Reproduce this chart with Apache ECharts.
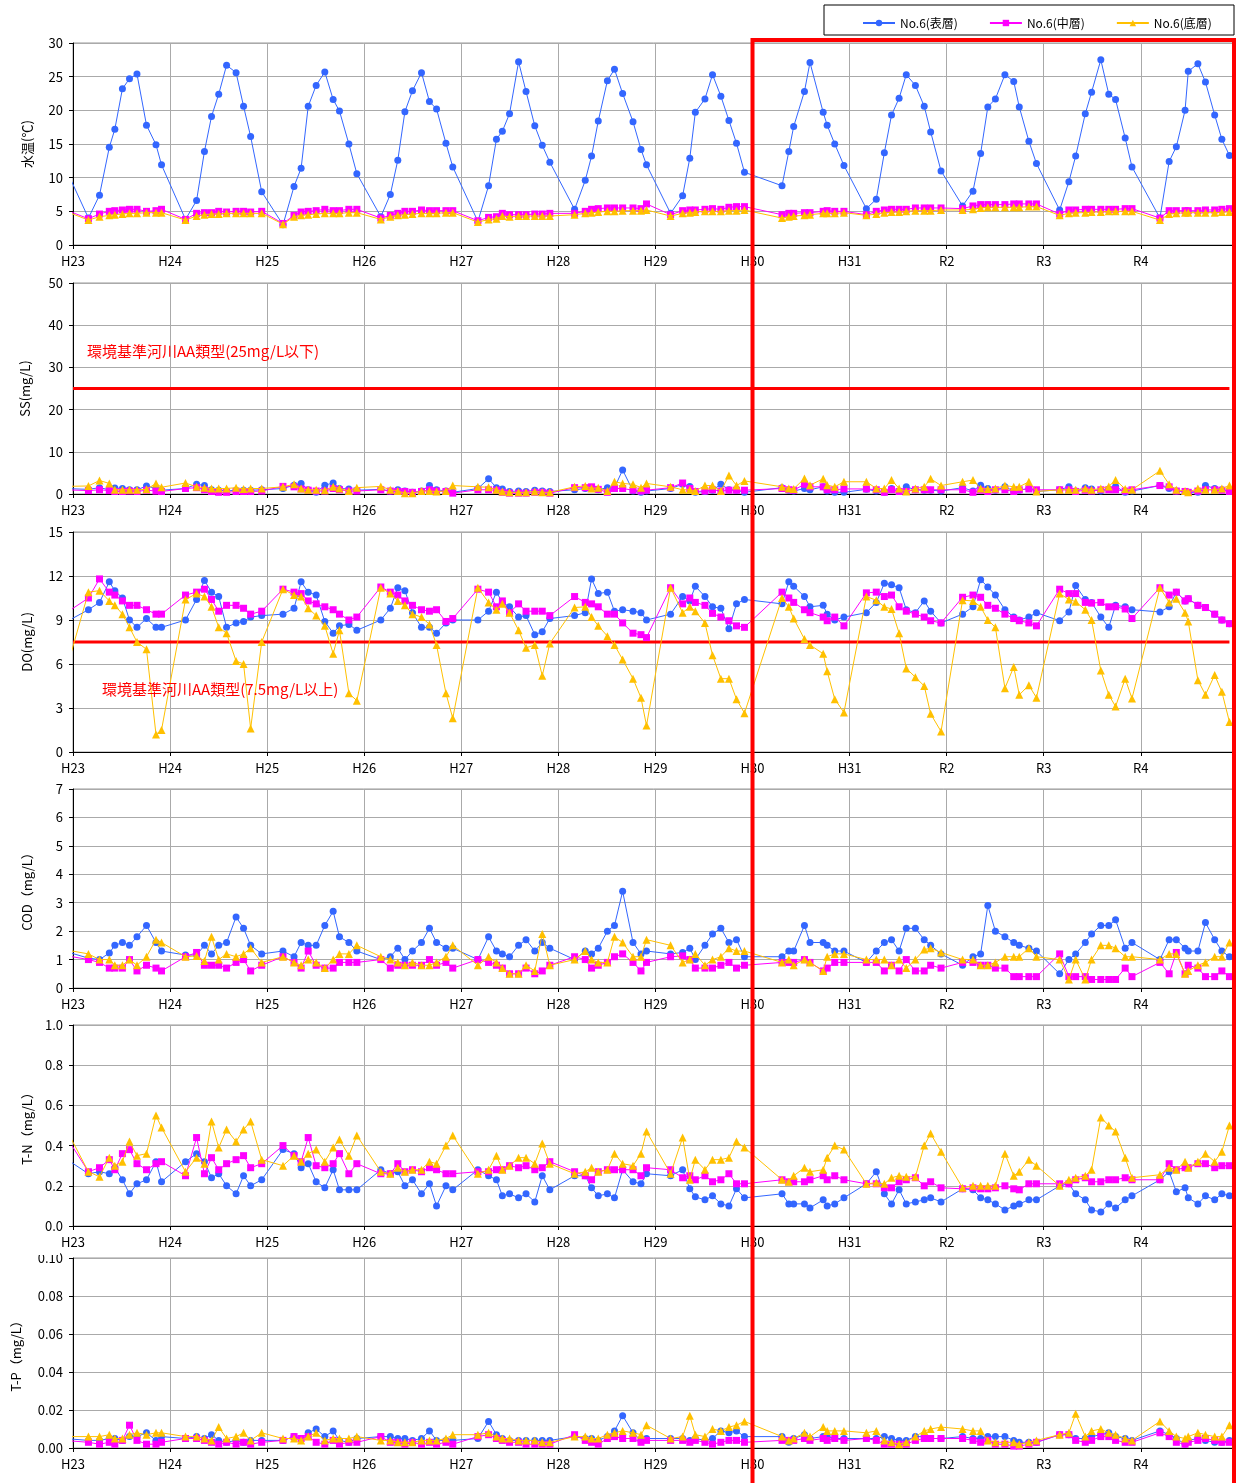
<!DOCTYPE html>
<html><head><meta charset="utf-8">
<script src="https://cdn.jsdelivr.net/npm/echarts/dist/echarts.min.js"></script>
<style>html,body{margin:0;padding:0;background:#fff}#c{width:1236px;height:1483px}</style>
</head><body><div id="c"></div>
<script>
// ---------- DATA ----------
const yearLabels = ['H23','H24','H25','H26','H27','H28','H29','H30','H31','R2','R3','R4'];
const seriesNames = ['No.6(表層)','No.6(中層)','No.6(底層)'];

// sampling times in years since start of H23 (first one is the previous year's last sample, clipped)
const sampleTimes = [
 -0.09,
 0.159,0.273,0.374,0.431,0.509,0.582,0.659,0.757,0.855,0.912,
 1.159,1.273,1.354,1.427,1.501,1.582,1.680,1.757,1.830,1.944,
 2.163,2.277,2.350,2.423,2.505,2.594,2.680,2.745,2.842,2.924,
 3.171,3.269,3.346,3.419,3.497,3.590,3.672,3.745,3.842,3.912,
 4.171,4.281,4.362,4.423,4.497,4.590,4.667,4.757,4.834,4.912,
 5.167,5.277,5.342,5.411,5.505,5.578,5.662,5.769,5.851,5.908,
 6.156,6.280,6.354,6.411,6.510,6.588,6.674,6.757,6.835,6.917,
 7.304,7.374,7.424,7.535,7.592,7.728,7.769,7.847,7.942,
 8.173,8.275,8.358,8.432,8.510,8.584,8.678,8.769,8.835,8.942,
 9.164,9.271,9.350,9.424,9.502,9.600,9.691,9.748,9.847,9.925,
 10.164,10.259,10.329,10.428,10.493,10.588,10.670,10.740,10.839,10.909,
 11.197,11.292,11.366,11.456,11.489,11.588,11.666,11.761,11.835,11.913
];

// 水温
const tempSurface = [11.8,
 4.0,7.4,14.5,17.2,23.2,24.7,25.4,17.8,14.9,11.9,
 3.8,6.6,13.9,19.1,22.4,26.7,25.6,20.6,16.1,7.9,
 3.0,8.7,11.4,20.6,23.7,25.7,21.6,19.9,15.0,10.6,
 4.2,7.5,12.6,19.8,22.9,25.6,21.3,20.2,15.1,11.6,
 3.5,8.8,15.7,16.9,19.5,27.2,22.8,17.7,14.8,12.3,
 5.3,9.6,13.2,18.4,24.4,26.1,22.5,18.3,14.2,11.9,
 4.7,7.3,12.9,19.7,21.7,25.3,22.1,18.5,15.1,10.8,
 8.8,13.9,17.6,22.8,27.1,19.7,17.8,15.0,11.8,
 5.4,6.8,13.7,19.3,21.8,25.3,23.7,20.6,16.8,11.0,
 5.8,8.0,13.6,20.5,21.7,25.3,24.3,20.5,15.4,12.1,
 5.2,9.4,13.2,19.5,22.7,27.5,22.4,21.6,15.9,11.6,
 4.0,12.4,14.6,20.0,25.8,26.9,24.2,19.3,15.7,13.3];
const tempMiddle = [5.3,
 3.9,4.6,5.0,5.1,5.2,5.3,5.3,5.0,5.1,5.3,
 3.8,4.7,4.8,4.8,5.0,4.9,5.0,5.0,4.9,5.0,
 3.2,4.4,4.9,5.0,5.1,5.3,5.1,5.1,5.3,5.3,
 4.0,4.4,4.7,5.0,5.0,5.2,5.1,5.1,5.1,5.1,
 3.6,4.1,4.2,4.7,4.5,4.5,4.5,4.6,4.6,4.7,
 4.7,5.0,5.3,5.4,5.5,5.5,5.5,5.5,5.4,6.1,
 4.5,5.1,5.2,5.2,5.3,5.4,5.3,5.6,5.7,5.7,
 4.5,4.7,4.7,4.8,4.8,5.0,5.1,5.0,5.0,
 4.5,5.0,5.2,5.3,5.3,5.3,5.5,5.5,5.5,5.5,
 5.4,5.8,6.0,6.0,6.0,6.0,6.1,6.1,6.1,6.1,
 4.6,5.2,5.2,5.3,5.3,5.3,5.3,5.3,5.4,5.4,
 4.0,5.1,5.1,5.1,5.1,5.1,5.2,5.2,5.3,5.4];
const tempBottom = [5.1,
 3.7,4.2,4.4,4.5,4.6,4.7,4.7,4.8,4.8,4.8,
 3.7,4.3,4.5,4.6,4.6,4.7,4.7,4.7,4.7,4.7,
 3.1,4.2,4.4,4.5,4.6,4.7,4.7,4.7,4.8,4.8,
 3.8,4.2,4.4,4.5,4.6,4.7,4.7,4.7,4.8,4.8,
 3.4,3.8,3.9,4.3,4.2,4.3,4.3,4.3,4.3,4.3,
 4.5,4.7,4.8,4.9,5.0,5.0,5.1,5.1,5.1,5.2,
 4.3,4.7,4.8,4.9,5.0,5.0,5.0,5.1,5.1,5.2,
 4.0,4.2,4.3,4.4,4.5,4.7,4.7,4.7,4.8,
 4.4,4.6,4.8,4.9,4.9,5.0,5.1,5.1,5.1,5.2,
 5.2,5.3,5.5,5.6,5.6,5.6,5.6,5.6,5.7,5.7,
 4.4,4.7,4.8,4.8,4.9,4.9,5.0,5.0,5.0,5.0,
 3.7,4.6,4.7,4.8,4.8,4.8,4.8,4.8,4.9,4.9];

// SS
const ssSurface = [1.3,
 1.1,1.5,1.0,1.4,1.3,1.0,1.0,1.9,1.3,0.9,
 1.3,2.3,2.0,1.0,0.9,0.7,0.9,0.9,0.9,1.0,
 1.3,2.1,2.5,1.0,0.4,2.1,2.6,1.3,1.2,0.9,
 1.1,0.7,1.0,0.7,0.4,0.7,2.0,1.0,0.7,0.4,
 1.3,3.6,1.5,1.2,0.6,0.7,0.6,0.9,0.7,0.6,
 1.0,1.3,1.5,1.0,1.5,1.5,5.7,0.7,0.4,0.7,
 1.3,2.3,1.8,0.4,0.6,0.9,2.3,1.0,0.9,0.4,
 1.5,0.9,0.7,1.3,1.0,1.7,0.7,0.4,0.4,
 1.1,0.7,0.4,1.3,0.6,1.7,1.0,0.9,0.9,0.7,
 1.5,0.7,2.1,1.3,0.9,1.7,0.7,0.9,1.3,0.6,
 1.0,1.7,0.7,1.5,1.2,0.7,1.2,1.8,0.4,0.7,
 2.0,1.3,0.7,0.6,0.4,0.4,2.0,1.3,1.0,0.7];
const ssMiddle = [1.0,
 0.8,1.0,0.8,0.6,0.6,0.7,0.6,0.9,0.7,0.6,
 1.3,1.5,1.0,0.6,0.4,0.4,0.6,0.6,0.6,0.7,
 1.8,1.7,1.2,0.9,0.7,0.7,1.3,1.0,0.7,0.7,
 1.0,0.7,0.6,0.6,0.4,0.6,1.0,0.7,0.6,0.2,
 1.0,1.0,0.9,0.4,0.2,0.2,0.2,0.4,0.4,0.2,
 1.5,1.5,1.7,1.1,0.4,1.3,1.3,0.9,0.7,0.9,
 1.5,2.6,1.3,0.6,0.7,1.0,0.7,0.9,0.9,0.9,
 1.3,1.0,0.9,2.3,1.7,1.7,1.0,1.0,1.2,
 1.2,1.0,0.4,1.0,0.6,0.6,1.0,1.0,1.0,1.0,
 1.0,0.4,0.9,0.6,1.0,1.0,0.6,1.0,1.2,1.0,
 1.0,1.0,0.6,0.9,0.7,1.0,1.0,1.0,0.7,1.0,
 2.0,1.7,0.7,0.6,0.4,0.7,1.0,1.0,0.9,0.6];
const ssBottom = [1.8,
 1.9,3.2,2.5,1.0,1.0,1.0,1.0,1.1,2.5,1.6,
 2.6,1.7,1.5,1.3,1.3,1.3,1.5,1.2,1.3,1.3,
 1.7,2.3,1.3,1.0,1.0,0.9,1.7,1.3,0.7,1.5,
 1.8,1.0,0.7,0.2,0.2,0.7,0.7,0.6,0.7,2.0,
 1.7,1.6,1.0,0.6,0.4,0.4,0.4,0.6,0.4,0.4,
 1.7,1.9,1.3,1.5,0.7,2.9,2.5,2.3,1.5,2.5,
 1.7,1.0,1.0,0.7,2.0,2.0,0.7,4.4,2.0,3.1,
 1.7,1.3,1.2,3.7,2.1,3.6,2.1,1.7,2.9,
 2.9,1.3,1.3,3.3,1.3,0.6,1.3,1.7,3.6,2.0,
 2.9,3.3,1.3,1.2,1.3,2.0,1.7,1.7,2.9,0.6,
 1.0,1.0,1.0,1.3,1.0,1.3,1.8,3.3,1.2,1.0,
 5.5,2.3,1.0,0.7,0.4,1.3,1.0,1.0,1.3,2.0];
const ssStandard = [25];

// DO
const doSurface = [8.8,
 9.7,10.2,11.6,11.0,10.5,9.0,8.5,9.1,8.5,8.5,
 9.0,10.4,11.7,10.9,10.6,8.5,8.8,8.9,9.2,9.3,
 9.4,9.8,11.6,10.9,10.7,8.9,8.1,8.6,8.7,8.3,
 9.0,9.8,11.2,11.0,9.5,8.5,8.5,8.1,8.8,9.0,
 9.0,9.6,10.9,10.2,9.9,9.2,9.3,8.0,8.2,9.1,
 9.3,9.5,11.8,10.8,10.9,9.6,9.7,9.6,9.5,9.0,
 9.4,10.6,10.3,11.3,10.6,9.9,9.8,8.4,10.1,10.4,
 10.1,11.6,11.3,10.6,9.9,10.0,9.4,9.0,9.2,
 9.5,10.2,11.5,11.4,11.2,9.7,9.5,10.3,9.6,8.8,
 9.4,9.9,11.75,11.25,10.7,9.7,9.2,9.0,9.2,9.5,
 8.95,9.55,11.35,10.4,10.2,9.2,8.5,10.0,9.9,9.7,
 9.55,9.9,10.9,10.3,10.45,10.0,9.85,9.4,9.0,8.75];
const doMiddle = [9.4,
 10.5,11.8,10.9,10.7,10.3,10.0,10.0,9.7,9.4,9.4,
 10.7,10.9,11.1,10.4,9.6,10.0,10.0,9.8,9.4,9.6,
 11.1,10.9,10.8,10.3,10.1,9.9,9.7,9.4,9.0,9.2,
 11.25,10.9,10.7,10.3,10.0,9.7,9.6,9.7,8.9,9.1,
 11.1,10.9,9.9,10.3,9.5,10.1,9.6,9.6,9.6,9.3,
 10.6,10.2,10.1,9.9,9.4,9.4,8.8,8.1,8.0,7.8,
 11.2,10.1,10.5,10.2,10.0,9.45,9.2,8.95,8.6,8.5,
 10.9,10.5,10.2,9.7,9.5,9.2,8.95,9.2,8.6,
 10.85,10.9,10.6,10.7,9.9,9.6,9.4,9.2,8.95,8.8,
 10.55,10.7,10.55,10.0,9.8,9.4,9.1,8.95,8.8,8.6,
 11.1,10.8,10.8,10.2,10.15,10.2,9.9,9.9,9.75,9.1,
 11.2,10.7,10.9,10.3,10.45,10.0,9.85,9.4,9.0,8.75];
const doBottom = [5.1,
 10.9,11.0,10.3,10.0,9.4,8.5,7.5,7.0,1.2,1.5,
 10.4,10.8,10.6,9.9,8.5,8.1,6.2,6.0,1.6,7.5,
 11.1,10.7,10.6,9.8,9.3,8.6,6.7,8.3,4.0,3.5,
 11.2,10.8,10.3,10.0,9.4,9.2,8.7,7.3,4.0,2.3,
 11.2,10.2,9.7,10.1,9.5,8.3,7.1,7.3,5.2,7.4,
 9.85,9.9,9.2,8.6,7.9,7.3,6.3,5.0,3.7,1.8,
 11.2,9.5,9.9,9.6,8.8,6.6,5.0,5.0,3.6,2.65,
 10.5,9.9,9.1,7.7,7.3,6.7,5.5,3.6,2.7,
 10.6,10.35,9.9,9.75,8.1,5.7,5.1,4.5,2.6,1.4,
 10.35,10.3,9.9,9.0,8.5,4.35,5.8,3.9,4.55,3.7,
 10.8,10.4,10.25,9.7,9.0,5.55,3.9,3.1,5.0,3.65,
 11.2,10.2,10.45,9.5,8.9,4.9,3.9,5.25,4.1,2.05];
const doStandard = [7.5];

// COD
const codSurface = [1.3,
 1.05,1.0,1.23,1.5,1.6,1.5,1.8,2.2,1.6,1.3,
 1.16,1.16,1.5,1.2,1.5,1.6,2.5,2.1,1.5,1.2,
 1.3,1.1,1.6,1.5,1.5,2.2,2.7,1.8,1.6,1.3,
 1.0,1.1,1.4,1.0,1.3,1.6,2.1,1.6,1.4,1.4,
 1.0,1.8,1.3,1.2,1.1,1.5,1.7,1.3,1.6,1.4,
 1.0,1.3,1.2,1.4,2.0,2.2,3.4,1.6,1.2,1.3,
 1.2,1.25,1.4,1.0,1.5,1.9,2.1,1.6,1.7,1.1,
 1.1,1.3,1.3,2.2,1.6,1.6,1.5,1.3,1.3,
 0.9,1.3,1.6,1.7,1.3,2.1,2.1,1.7,1.5,1.2,
 0.8,1.1,1.2,2.9,2.0,1.8,1.6,1.5,1.4,1.3,
 0.5,1.0,1.2,1.6,1.9,2.2,2.2,2.4,1.4,1.6,
 1.0,1.7,1.7,1.4,1.3,1.3,2.3,1.7,1.3,1.1];
const codMiddle = [1.15,
 1.0,0.9,0.7,0.7,0.7,1.0,0.6,0.8,0.7,0.6,
 1.1,1.25,0.8,0.8,0.8,0.7,0.9,1.0,0.6,0.8,
 1.1,0.9,0.7,1.3,0.8,0.7,0.7,0.9,0.9,0.9,
 1.0,0.7,0.8,0.8,0.8,0.8,1.0,0.8,0.9,0.7,
 1.0,0.9,0.8,0.7,0.5,0.5,0.7,0.5,0.6,0.8,
 1.1,1.0,0.7,0.8,0.9,1.1,1.2,0.9,0.6,0.9,
 1.1,1.13,1.0,0.7,0.7,0.7,0.8,0.9,0.7,0.8,
 0.9,0.9,0.9,1.0,0.9,0.6,0.7,0.9,0.9,
 0.9,0.9,0.6,0.8,0.6,1.0,0.6,0.6,0.8,0.7,
 0.9,0.9,0.8,0.8,0.7,0.7,0.4,0.4,0.4,0.4,
 1.2,0.4,0.4,0.4,0.3,0.3,0.3,0.3,0.7,0.4,
 0.9,0.5,1.25,0.5,0.8,0.7,0.4,0.4,0.6,0.4];
const codBottom = [1.35,
 1.2,1.0,1.0,0.8,0.8,1.0,0.8,1.1,1.7,1.6,
 1.1,1.13,0.95,1.8,1.0,1.2,1.1,1.2,1.4,0.9,
 1.1,0.9,0.8,1.0,0.9,0.7,1.0,1.2,1.2,1.5,
 1.1,1.0,0.9,0.8,0.9,0.8,0.8,0.9,1.1,1.5,
 0.8,1.1,0.9,0.7,0.5,0.5,0.8,0.6,1.9,0.8,
 1.0,1.3,1.0,0.9,0.9,1.8,1.6,1.1,1.1,1.7,
 1.5,0.9,1.0,1.2,0.8,1.0,1.1,1.4,1.3,1.3,
 0.9,1.0,0.8,1.0,0.9,0.6,1.1,1.2,1.2,
 1.0,1.0,1.0,0.8,1.0,0.7,1.0,1.35,1.4,1.25,
 1.0,1.0,0.8,0.8,0.9,1.1,1.1,1.1,1.4,1.1,
 1.0,0.3,1.0,0.3,1.0,1.5,1.5,1.4,1.1,1.1,
 1.0,1.2,1.2,0.5,0.6,0.8,0.9,1.1,1.1,1.6];

// T-N
const tnSurface = [0.34,
 0.26,0.27,0.26,0.29,0.23,0.16,0.21,0.23,0.32,0.22,
 0.32,0.36,0.32,0.24,0.26,0.20,0.16,0.25,0.20,0.23,
 0.38,0.36,0.29,0.31,0.22,0.19,0.28,0.18,0.18,0.18,
 0.28,0.26,0.27,0.20,0.23,0.16,0.21,0.10,0.20,0.18,
 0.28,0.25,0.23,0.15,0.16,0.14,0.16,0.12,0.25,0.18,
 0.25,0.25,0.19,0.15,0.16,0.14,0.28,0.22,0.21,0.26,
 0.25,0.28,0.185,0.145,0.13,0.15,0.11,0.10,0.185,0.14,
 0.16,0.11,0.11,0.11,0.09,0.13,0.10,0.11,0.14,
 0.21,0.27,0.16,0.11,0.18,0.11,0.12,0.13,0.14,0.12,
 0.185,0.18,0.14,0.13,0.11,0.08,0.10,0.11,0.13,0.13,
 0.20,0.21,0.16,0.13,0.08,0.07,0.11,0.09,0.13,0.15,
 0.23,0.27,0.17,0.19,0.14,0.11,0.15,0.13,0.16,0.15];
const tnMiddle = [0.46,
 0.27,0.29,0.33,0.28,0.36,0.38,0.31,0.28,0.31,0.32,
 0.25,0.44,0.26,0.34,0.28,0.31,0.33,0.35,0.29,0.31,
 0.40,0.35,0.32,0.44,0.30,0.29,0.31,0.36,0.26,0.31,
 0.26,0.26,0.31,0.27,0.28,0.27,0.29,0.28,0.26,0.26,
 0.27,0.27,0.28,0.28,0.30,0.29,0.30,0.28,0.29,0.32,
 0.27,0.25,0.23,0.27,0.28,0.28,0.28,0.28,0.25,0.29,
 0.28,0.24,0.25,0.23,0.25,0.22,0.23,0.26,0.21,0.21,
 0.23,0.22,0.22,0.22,0.23,0.25,0.23,0.25,0.23,
 0.21,0.21,0.19,0.19,0.22,0.23,0.24,0.20,0.22,0.19,
 0.185,0.19,0.185,0.185,0.19,0.20,0.185,0.18,0.21,0.21,
 0.21,0.21,0.23,0.24,0.22,0.22,0.23,0.23,0.24,0.23,
 0.23,0.31,0.28,0.29,0.29,0.31,0.31,0.29,0.30,0.30];
const tnBottom = [0.50,
 0.27,0.245,0.34,0.30,0.32,0.42,0.35,0.36,0.55,0.49,
 0.27,0.34,0.31,0.52,0.39,0.48,0.42,0.48,0.52,0.33,
 0.30,0.35,0.32,0.36,0.38,0.32,0.39,0.43,0.35,0.45,
 0.27,0.26,0.29,0.27,0.28,0.28,0.32,0.31,0.40,0.45,
 0.26,0.28,0.35,0.28,0.30,0.34,0.34,0.31,0.41,0.31,
 0.26,0.27,0.29,0.27,0.28,0.36,0.31,0.30,0.36,0.47,
 0.26,0.44,0.23,0.33,0.28,0.33,0.33,0.34,0.42,0.39,
 0.23,0.22,0.25,0.29,0.27,0.28,0.34,0.40,0.38,
 0.21,0.215,0.21,0.24,0.25,0.245,0.245,0.40,0.46,0.37,
 0.19,0.20,0.20,0.20,0.20,0.36,0.25,0.27,0.33,0.30,
 0.20,0.23,0.24,0.25,0.28,0.54,0.50,0.47,0.34,0.24,
 0.255,0.29,0.28,0.32,0.29,0.32,0.36,0.32,0.37,0.50];

// T-P
const tpSurface = [0.005,
 0.004,0.004,0.005,0.005,0.004,0.006,0.006,0.008,0.004,0.006,
 0.005,0.006,0.005,0.007,0.004,0.003,0.004,0.003,0.004,0.004,
 0.004,0.006,0.005,0.008,0.010,0.006,0.009,0.004,0.003,0.005,
 0.006,0.006,0.005,0.005,0.004,0.005,0.009,0.004,0.004,0.004,
 0.005,0.014,0.007,0.005,0.004,0.004,0.004,0.004,0.004,0.004,
 0.006,0.005,0.005,0.004,0.006,0.009,0.017,0.008,0.004,0.005,
 0.005,0.005,0.004,0.005,0.004,0.005,0.009,0.008,0.009,0.006,
 0.006,0.003,0.005,0.007,0.005,0.006,0.006,0.005,0.005,
 0.005,0.005,0.006,0.005,0.004,0.004,0.006,0.006,0.005,0.005,
 0.006,0.005,0.005,0.006,0.006,0.006,0.004,0.003,0.003,0.003,
 0.007,0.007,0.005,0.005,0.006,0.007,0.008,0.006,0.005,0.004,
 0.009,0.007,0.005,0.002,0.004,0.005,0.004,0.003,0.003,0.004];
const tpMiddle = [0.004,
 0.003,0.002,0.003,0.002,0.004,0.012,0.004,0.002,0.002,0.003,
 0.005,0.005,0.004,0.003,0.002,0.003,0.002,0.003,0.002,0.003,
 0.004,0.006,0.005,0.006,0.003,0.002,0.004,0.002,0.003,0.003,
 0.006,0.003,0.003,0.002,0.003,0.002,0.003,0.002,0.003,0.002,
 0.006,0.007,0.005,0.004,0.003,0.003,0.002,0.002,0.002,0.002,
 0.007,0.004,0.003,0.002,0.005,0.006,0.005,0.005,0.003,0.004,
 0.004,0.004,0.003,0.004,0.003,0.002,0.003,0.004,0.004,0.003,
 0.004,0.004,0.004,0.005,0.004,0.005,0.004,0.005,0.004,
 0.005,0.004,0.002,0.002,0.002,0.002,0.004,0.005,0.005,0.005,
 0.005,0.004,0.003,0.004,0.002,0.002,0.001,0.001,0.002,0.003,
 0.007,0.007,0.004,0.003,0.004,0.006,0.006,0.004,0.003,0.003,
 0.008,0.006,0.003,0.002,0.003,0.004,0.005,0.004,0.003,0.003];
const tpBottom = [0.006,
 0.006,0.006,0.007,0.005,0.005,0.007,0.008,0.007,0.008,0.008,
 0.006,0.006,0.005,0.004,0.011,0.005,0.006,0.008,0.004,0.008,
 0.005,0.005,0.004,0.006,0.008,0.004,0.005,0.005,0.005,0.006,
 0.004,0.004,0.003,0.003,0.003,0.004,0.004,0.004,0.005,0.007,
 0.007,0.008,0.006,0.005,0.005,0.004,0.004,0.004,0.003,0.003,
 0.006,0.006,0.005,0.005,0.007,0.008,0.009,0.008,0.007,0.012,
 0.005,0.006,0.017,0.007,0.006,0.010,0.009,0.011,0.012,0.014,
 0.006,0.004,0.005,0.008,0.006,0.011,0.009,0.009,0.009,
 0.008,0.009,0.004,0.003,0.002,0.003,0.006,0.009,0.010,0.011,
 0.010,0.009,0.009,0.004,0.003,0.003,0.003,0.002,0.003,0.004,
 0.007,0.008,0.018,0.006,0.009,0.010,0.008,0.007,0.005,0.004,
 0.014,0.009,0.006,0.005,0.006,0.008,0.007,0.006,0.006,0.012];

// ---------- CHART ----------
const X_MAX = 11.96;
const FONT = "'Noto Sans CJK JP','Noto Sans',sans-serif";
const colors = ['#3366FF', '#FF00FF', '#FFC000'];
const symbols = ['circle', 'rect', 'triangle'];
const symbolSizes = [7, 7, 8];

const panels = [
  { name: '水温(℃)', min: 0, max: 30, step: 5, dec: 0, top: 43, height: 202, gap: 39, vals: [tempSurface, tempMiddle, tempBottom] },
  { name: 'SS(mg/L)', min: 0, max: 50, step: 10, dec: 0, top: 283, height: 211, gap: 41, vals: [ssSurface, ssMiddle, ssBottom], std: ssStandard },
  { name: 'DO(mg/L)', min: 0, max: 15, step: 3, dec: 0, top: 532, height: 220, gap: 39, vals: [doSurface, doMiddle, doBottom], std: doStandard },
  { name: 'COD（mg/L）', min: 0, max: 7, step: 1, dec: 0, top: 789, height: 199, gap: 39, vals: [codSurface, codMiddle, codBottom] },
  { name: 'T-N（mg/L）', min: 0, max: 1.0, step: 0.2, dec: 1, top: 1025, height: 201, gap: 39, vals: [tnSurface, tnMiddle, tnBottom] },
  { name: 'T-P（mg/L）', min: 0, max: 0.10, step: 0.02, dec: 2, top: 1258, height: 190, gap: 50, vals: [tpSurface, tpMiddle, tpBottom] }
];

const grids = [], xAxes = [], yAxes = [], series = [];
panels.forEach((p, gi) => {
  grids.push({ left: 73, right: 2, top: p.top, height: p.height, show: true, borderColor: '#999', borderWidth: 1 });
  xAxes.push({
    type: 'value', gridIndex: gi, min: 0, max: X_MAX, interval: 1,
    axisLine: { show: true, onZero: false, lineStyle: { color: '#000', width: 1 } },
    axisTick: { show: true, length: 4, lineStyle: { color: '#000' } },
    axisLabel: { margin: 10, fontSize: 13, color: '#000', fontFamily: FONT, showMaxLabel: false,
      formatter: v => (Math.abs(v - Math.round(v)) < 1e-6 && yearLabels[Math.round(v)]) ? yearLabels[Math.round(v)] : '' },
    splitLine: { show: true, lineStyle: { color: '#aaa', width: 1 } }
  });
  yAxes.push({
    type: 'value', gridIndex: gi, min: p.min, max: p.max, interval: p.step,
    name: p.name, nameLocation: 'middle', nameGap: p.gap, nameRotate: 90,
    nameTextStyle: { fontSize: 13, color: '#000', fontFamily: FONT },
    axisLine: { show: true, lineStyle: { color: '#000', width: 1 } },
    axisTick: { show: true, length: 4, lineStyle: { color: '#000' } },
    axisLabel: { margin: 10, fontSize: 13, color: '#000', fontFamily: FONT, formatter: v => v.toFixed(p.dec) },
    splitLine: { show: true, lineStyle: { color: '#aaa', width: 1 } }
  });
  if (p.std) {
    series.push({
      type: 'line', xAxisIndex: gi, yAxisIndex: gi, silent: true, symbol: 'none',
      data: [[0, p.std[0]], [sampleTimes[sampleTimes.length - 1], p.std[0]]],
      lineStyle: { color: '#FF0000', width: 3 }, z: 1, animation: false
    });
  }
  p.vals.forEach((vals, si) => {
    series.push({
      name: seriesNames[si], type: 'line', xAxisIndex: gi, yAxisIndex: gi,
      data: sampleTimes.map((t, i) => [t, vals[i]]),
      symbol: symbols[si], symbolSize: symbolSizes[si], showAllSymbol: true,
      lineStyle: { color: colors[si], width: 1 }, itemStyle: { color: colors[si] },
      clip: true, animation: false, z: 2 + si
    });
  });
});

const chart = echarts.init(document.getElementById('c'), null, { renderer: 'canvas' });
chart.setOption({
  backgroundColor: '#fff',
  animation: false,
  textStyle: { fontFamily: FONT },
  legend: {
    data: seriesNames, left: 857, top: 12, width: 376, itemWidth: 32, itemHeight: 8, itemGap: 31,
    textStyle: { fontSize: 12, color: '#000', fontFamily: FONT }, selectedMode: false
  },
  grid: grids, xAxis: xAxes, yAxis: yAxes, series: series
});

const xStart = chart.convertToPixel({ xAxisIndex: 0 }, 7);
const xEnd = chart.convertToPixel({ xAxisIndex: 0 }, X_MAX);
chart.setOption({
  graphic: [
    { type: 'rect', shape: { x: 824, y: 5, width: 410, height: 30 }, style: { fill: 'none', stroke: '#000', lineWidth: 1 }, z: 10 },
    { type: 'rect', shape: { x: xStart, y: 40, width: xEnd - xStart, height: 1460 }, style: { fill: 'none', stroke: '#FF0000', lineWidth: 4 }, z: 100, silent: true },
    { type: 'text', left: 87, top: 344, style: { text: '環境基準河川AA類型(25mg/L以下)', fill: '#FF0000', font: '15px ' + FONT }, z: 50 },
    { type: 'text', left: 102, top: 682, style: { text: '環境基準河川AA類型(7.5mg/L以上)', fill: '#FF0000', font: '15px ' + FONT }, z: 50 },
    { type: 'rect', shape: { x: 15, y: 1246, width: 45, height: 9 }, style: { fill: '#fff' }, z: 60, silent: true }
  ]
});
</script></body></html>
